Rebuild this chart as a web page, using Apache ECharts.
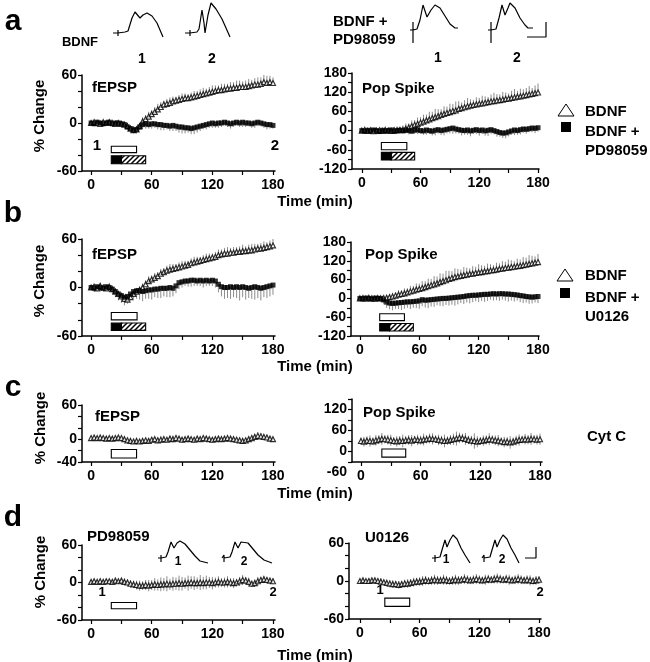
<!DOCTYPE html>
<html><head><meta charset="utf-8">
<script src="https://cdn.jsdelivr.net/npm/echarts@6/dist/echarts.min.js"></script>
<style>html,body{margin:0;padding:0;background:#fff}#c{width:650px;height:662px}</style>
</head><body><div id="c"></div>
<script>
// ---- time base (min) ----
const T = [0,3,6,9,12,15,18,21,24,27,30,33,36,39,42,45,48,51,54,57,60,63,66,69,72,75,78,81,84,87,90,93,96,99,102,105,108,111,114,117,120,123,126,129,132,135,138,141,144,147,150,153,156,159,162,165,168,171,174,177,180];

// ---- a: BDNF vs BDNF + PD98059 ----
const aL_bdnf = [0,1,0,-1,1,0,1,0,-1,0,-1,-2,-4,-7,-9,-8,-4,2,5,8,11,14,17,20,23,24,25,27,28,29,30,31,31,32,33,34,35,36,37,38,39,40,41,41,42,43,43,44,44,45,45,45,46,47,48,48,49,51,50,51,50];
const aL_bdnfErr = [2,3,2,3,2,3,2,3,2,3,3,3,4,4,5,4,4,5,5,6,5,6,7,6,5,6,7,6,5,6,7,6,5,6,7,6,7,8,6,7,8,7,6,8,7,6,8,7,9,8,7,8,9,7,8,9,8,10,9,8,7];
const aL_pd = [0,-1,1,0,-1,0,1,-1,0,0,-1,-2,-5,-7,-9,-8,-5,-2,-1,-2,-1,-1,-2,-2,-3,-3,-4,-3,-4,-5,-5,-6,-6,-7,-6,-5,-4,-3,-2,-1,0,-1,0,0,1,0,-1,0,1,0,1,0,0,-1,0,1,0,-1,-2,-2,-3];
const aL_pdErr = [2,3,2,3,2,2,3,2,3,2,3,4,4,5,4,5,4,5,6,5,6,5,6,7,6,5,6,7,6,7,8,7,6,7,8,7,6,5,6,5,6,5,6,5,4,5,6,5,4,5,6,5,4,5,6,5,4,5,6,5,4];
const aR_bdnf = [0,2,-1,1,-2,0,1,-1,2,0,-1,1,1,2,2,6,10,14,18,21,25,28,32,35,39,42,45,49,52,55,58,61,63,68,70,73,76,78,80,82,84,85,87,89,91,92,94,95,97,99,100,102,104,106,107,109,111,113,115,117,119];
const aR_bdnfErr = [4,5,3,6,4,5,6,4,5,6,8,10,12,9,14,16,12,18,15,20,17,22,18,24,20,26,22,18,24,20,26,22,28,24,18,22,26,20,16,22,18,24,20,16,22,26,20,18,24,20,16,22,26,18,24,20,22,26,18,24,28];
const aR_pd = [0,-2,1,-1,2,0,-3,1,-1,0,2,-2,0,1,-1,2,0,-2,1,3,0,-1,2,0,-2,1,3,0,2,4,6,8,5,3,1,0,2,-1,1,3,0,2,-1,1,3,0,-3,-6,-8,-7,-4,-1,2,0,3,5,4,6,8,7,9];
const aR_pdErr = [4,6,5,7,4,6,5,7,6,5,8,6,7,9,8,10,12,9,11,14,10,12,15,11,13,16,12,14,17,13,15,18,14,12,16,13,15,17,12,14,16,13,15,18,14,12,16,13,15,17,14,12,16,13,15,12,14,11,13,15,12];

// ---- b: BDNF vs BDNF + U0126 ----
const bL_bdnf = [0,1,-1,2,0,-1,1,-2,-5,-8,-11,-14,-15,-12,-8,-5,-3,0,4,8,10,12,14,17,19,21,22,23,24,25,26,27,28,30,31,32,33,34,35,36,37,38,40,41,42,42,43,43,44,44,45,45,46,46,47,48,48,49,50,51,52];
const bL_bdnfErr = [2,3,2,3,2,3,2,3,4,4,5,5,6,5,5,4,4,5,5,6,5,6,5,6,5,6,7,6,5,6,7,6,5,6,7,6,5,6,7,6,5,6,7,6,7,8,6,7,6,7,8,6,7,8,7,6,7,8,6,7,8];
const bL_u = [0,-1,1,0,-1,1,0,-2,-5,-8,-10,-12,-11,-8,-5,-4,-4,-5,-4,-3,-3,-2,-2,-1,-1,-1,0,-1,2,6,7,8,8,9,9,8,9,8,9,8,9,8,4,1,0,0,1,0,1,0,1,0,-1,0,1,0,-1,0,1,2,3];
const bL_uErr = [3,4,3,4,3,4,5,6,7,8,9,10,9,8,9,10,11,12,10,11,12,10,11,12,10,11,12,10,9,8,7,6,7,8,7,6,7,8,7,6,7,8,10,12,14,13,15,12,14,16,13,15,12,14,16,13,15,12,14,13,12];
const bR_bdnf = [0,1,-1,2,0,-1,1,0,1,2,4,6,9,12,14,16,19,22,25,28,30,33,36,39,42,45,48,52,55,58,62,65,68,70,72,74,76,78,79,81,83,84,86,87,89,90,92,94,95,97,98,100,101,103,104,106,108,110,112,114,116];
const bR_bdnfErr = [4,5,3,6,4,5,6,4,6,8,10,12,9,14,12,16,13,18,15,20,17,22,19,24,20,26,22,28,24,30,26,22,28,24,20,26,22,18,24,20,26,22,18,24,20,16,22,18,24,20,26,22,18,24,20,26,22,28,24,20,26];
const bR_u = [0,-1,1,0,-2,1,0,0,-5,-12,-15,-16,-15,-14,-13,-12,-11,-11,-10,-9,-8,-4,-6,-5,-4,-3,-2,-1,0,0,1,2,3,4,5,6,8,9,10,10,11,12,13,13,14,15,14,15,15,14,14,13,12,11,9,8,6,5,4,5,6];
const bR_uErr = [5,6,4,7,5,6,8,10,14,18,20,22,18,20,24,21,19,23,20,22,25,21,23,26,22,24,20,23,25,21,24,22,26,23,20,24,21,25,22,19,23,20,24,21,18,22,20,23,19,21,24,20,22,18,21,23,19,22,20,18,21];

// ---- c: Cyt C ----
const cL = [2,3,2,3,2,1,2,1,2,3,2,0,-2,-3,-4,-3,-4,-3,-2,-3,-1,0,-2,-1,0,-1,1,0,2,1,-1,0,1,0,-1,1,0,2,1,0,-1,0,1,0,1,2,1,0,-1,-2,-3,-2,0,2,4,6,5,4,3,1,0];
const cLErr = [3,4,3,4,3,4,3,4,3,4,4,5,4,5,4,5,4,5,4,5,5,4,5,6,5,4,5,6,5,4,5,4,5,4,5,4,5,4,5,4,4,5,4,5,4,5,4,5,4,5,5,4,5,4,5,6,5,4,5,4,3];
const cR = [0,-2,1,0,-1,2,4,6,5,4,2,0,-1,1,0,2,3,1,4,3,2,4,5,7,6,5,3,2,0,1,3,5,7,9,8,6,3,1,0,-2,0,1,3,5,4,2,1,-1,-3,-2,-4,-2,1,3,4,5,4,6,5,4,5];
const cRErr = [10,14,12,16,11,15,13,17,12,14,16,11,15,13,18,12,14,16,11,15,13,17,12,14,16,11,15,13,18,12,14,16,20,15,13,17,12,14,22,16,11,15,13,17,12,14,16,11,15,13,18,12,14,16,11,15,13,17,12,14,16];

// ---- d: PD98059 / U0126 alone ----
const dL = [1,2,1,2,1,2,2,1,3,2,3,1,0,-2,-3,-4,-5,-5,-4,-5,-4,-3,-4,-3,-3,-2,-3,-2,-2,-1,-2,-1,-1,0,-1,-1,0,-1,0,0,-1,0,1,0,0,1,0,-1,0,2,4,3,1,-2,-1,2,4,5,4,3,2];
const dLErr = [3,4,3,4,3,4,3,4,3,4,4,5,5,6,6,7,8,7,8,9,8,10,9,11,10,12,9,11,10,12,11,9,12,10,11,9,12,10,11,9,10,8,9,7,8,9,7,8,6,7,8,6,7,5,6,7,5,6,5,4,5];
const dR = [0,1,0,0,1,1,0,-1,-2,-3,-4,-5,-5,-6,-5,-4,-4,-3,-2,-1,-1,0,1,0,1,2,1,1,2,1,0,1,2,1,2,3,2,1,2,3,2,1,2,3,2,3,4,3,2,3,2,1,2,3,2,1,2,1,0,1,2];
const dRErr = [3,4,3,4,3,4,4,5,4,5,5,6,5,6,5,6,7,6,7,6,7,8,7,6,7,8,7,6,8,7,6,7,8,7,6,8,7,6,7,8,7,6,8,7,6,7,8,7,6,7,8,6,7,8,7,6,7,8,6,7,6];

// ---- application bars: [start, end, top, bottom] and [start, switch, end, top, bottom] ----
const aL_open = [20,45,-29,-37], aL_drug = [20,30,54,-41,-51];
const aR_open = [20,46,-37,-60], aR_drug = [20,30,54,-68,-92];
const bL_open = [20,45.5,-31,-40], bL_drug = [20,30,54,-44,-53];
const bR_open = [20,45,-49,-71], bR_drug = [20,30,54,-80,-104];
const cL_open = [20,45,-18,-33];
const cR_open = [21,45,-23,-46];
const dL_open = [20,45,-32,-42];
const dR_open = [25,50,-27,-40];

// ---- tick labels ----
const X_LABELS = [0,60,120,180];
const X_TICKS = [0,30,60,90,120,150,180];
const Y60_LABELS = [-60,0,60], Y60_TICKS = [-60,-40,-20,0,20,40,60];
const YPS_LABELS = [-120,-60,0,60,120,180], YPS_TICKS = [-120,-90,-60,-30,0,30,60,90,120,150,180];
const YC_LABELS = [-40,0,60], YC_TICKS = [-40,-20,0,20,40,60];
const YCR_LABELS = [-60,0,60,120], YCR_TICKS = [-60,-30,0,30,60,90,120];

// ---- example sweeps (x: ms-like units, y: mV-like units) ----
const trA1 = [[0,0],[5,0],[5,3],[5,-3],[5,0],[12,1],[15,2],[19,15],[22,21],[27,15],[30,18],[34,20],[39,17],[44,10],[50,-4]];
const trA2 = [[0,0],[5,0],[5,3],[5,-3],[5,0],[12,1],[14,4],[17,23],[19,10],[20,0],[23,18],[26,30],[31,24],[37,14],[45,-4]];
const trAP1 = [[0,0],[3,0],[3,8],[3,-13],[3,0],[7,1],[10,10],[13,25],[17,13],[21,20],[25,25],[30,22],[35,14],[40,6],[45,2],[48,2]];
const trAP2 = [[0,0],[3,0],[3,8],[3,-13],[3,0],[8,1],[11,12],[14,25],[17,15],[20,22],[22,27],[27,22],[32,12],[37,5],[40,2],[45,2]];
const barAP = [[39,-7],[58,-7],[58,8]];
const trD1 = [[0,0],[3,0],[3,3],[3,-4],[3,0],[8,1],[10,6],[13,16],[16,10],[19,15],[22,17],[27,14],[32,8],[37,2],[42,-3],[50,-5]];
const trD2 = [[0,0],[2,0],[2,3],[2,-4],[2,0],[8,1],[10,6],[13,16],[16,10],[19,16],[21,18],[26,15],[31,9],[36,3],[42,-2],[50,-5]];
const trU1 = [[0,0],[3,0],[3,3],[3,-4],[3,0],[8,1],[10,8],[13,18],[15,11],[18,18],[21,23],[25,19],[29,10],[33,3],[38,-5]];
const trU2 = [[0,0],[2,0],[2,3],[2,-4],[2,0],[8,1],[10,8],[13,18],[15,11],[18,18],[21,23],[25,19],[29,10],[33,3],[37,-5]];
const barU = [[43,0],[54,0],[54,11]];

const FONT = '"Liberation Sans", Arial, Helvetica, sans-serif';

const hatch = (function(){
  const c = document.createElement('canvas'); c.width = 5; c.height = 5;
  const g = c.getContext('2d');
  g.fillStyle = '#fff'; g.fillRect(0,0,5,5);
  g.strokeStyle = '#000'; g.lineWidth = 1.5;
  g.beginPath();
  g.moveTo(-1,6); g.lineTo(6,-1);
  g.moveTo(-1,1); g.lineTo(1,-1);
  g.moveTo(4,6); g.lineTo(6,4);
  g.stroke();
  return c;
})();

const panels = [
  {grid:{left:82,top:75,width:193,height:96}, x:[-9,182], y:[-60,60], yl:Y60_LABELS, yt:Y60_TICKS,
   ser:[{v:aL_bdnf,e:aL_bdnfErr,dir:1,s:'tri'},{v:aL_pd,e:aL_pdErr,dir:-1,s:'sq'}], open:aL_open, drug:aL_drug},
  {grid:{left:352,top:73,width:187,height:96}, x:[-10,181], y:[-120,180], yl:YPS_LABELS, yt:YPS_TICKS,
   ser:[{v:aR_bdnf,e:aR_bdnfErr,dir:1,s:'tri'},{v:aR_pd,e:aR_pdErr,dir:-1,s:'sq'}], open:aR_open, drug:aR_drug},
  {grid:{left:82,top:239,width:193,height:97}, x:[-9,182], y:[-60,60], yl:Y60_LABELS, yt:Y60_TICKS,
   ser:[{v:bL_bdnf,e:bL_bdnfErr,dir:1,s:'tri'},{v:bL_u,e:bL_uErr,dir:-1,s:'sq'}], open:bL_open, drug:bL_drug},
  {grid:{left:351,top:242,width:188,height:94}, x:[-9,181], y:[-120,180], yl:YPS_LABELS, yt:YPS_TICKS,
   ser:[{v:bR_bdnf,e:bR_bdnfErr,dir:1,s:'tri'},{v:bR_u,e:bR_uErr,dir:-1,s:'sq'}], open:bR_open, drug:bR_drug},
  {grid:{left:82,top:405,width:193,height:57}, x:[-9,182], y:[-40,60], yl:YC_LABELS, yt:YC_TICKS,
   ser:[{v:cL,e:cLErr,dir:0,s:'tri'}], open:cL_open},
  {grid:{left:352,top:399,width:190,height:63}, x:[-9,182], y:[-60,120], yl:YCR_LABELS, yt:YCR_TICKS, shift:true,
   ser:[{v:cR,e:cRErr,dir:0,s:'tri'}], open:cR_open},
  {grid:{left:82,top:545,width:193,height:75}, x:[-9,182], y:[-60,60], yl:Y60_LABELS, yt:Y60_TICKS,
   ser:[{v:dL,e:dLErr,dir:0,s:'tri'}], open:dL_open},
  {grid:{left:349,top:543,width:192,height:76}, x:[-11,182], y:[-60,60], yl:Y60_LABELS, yt:Y60_TICKS,
   ser:[{v:dR,e:dRErr,dir:0,s:'tri'}], open:dR_open}
];

const traces = [
  {d:trA1, left:113, base:33, ymax:33},
  {d:trA2, left:185, base:33, ymax:33},
  {d:trAP1, left:410, base:30, ymax:30},
  {d:trAP2, left:488, base:30, ymax:30, bar:barAP},
  {d:trD1, left:158, base:558, ymax:25},
  {d:trD2, left:222, base:558, ymax:25},
  {d:trU1, left:432, base:558, ymax:25},
  {d:trU2, left:482, base:558, ymax:25, bar:barU}
];

const grids = [], xAxes = [], yAxes = [], series = [];
const lab = {fontFamily:FONT, fontWeight:'bold', fontSize:14, color:'#000'};
const axLine = {show:true, onZero:false, lineStyle:{color:'#000', width:1.5}};

panels.forEach((p, k) => {
  grids.push(p.grid);
  xAxes.push({type:'value', gridIndex:k, min:p.x[0], max:p.x[1], axisLine:axLine,
    axisTick:{show:true, length:4, customValues:X_TICKS, lineStyle:{color:'#000', width:1.2}},
    axisLabel:Object.assign({margin:7, customValues:X_LABELS}, lab), splitLine:{show:false}});
  yAxes.push({type:'value', gridIndex:k, min:p.y[0], max:p.y[1], axisLine:axLine,
    axisTick:{show:true, length:4, customValues:p.yt, lineStyle:{color:'#000', width:1.2}},
    axisLabel:Object.assign({margin:5, customValues:p.yl}, lab, p.shift ? {verticalAlign:'top', lineHeight:20} : {}),
    splitLine:{show:false}});
  // error bars
  p.ser.forEach(s => {
    const dir = s.dir;
    series.push({type:'custom', xAxisIndex:k, yAxisIndex:k, silent:true, z:1, clip:true,
      data: T.map((t,i) => [t, s.v[i], s.e[i]]),
      renderItem:(params, api) => {
        const t = api.value(0), v = api.value(1), e = api.value(2);
        const a = api.coord([t, dir >= 0 ? v + e : v]);
        const b = api.coord([t, dir <= 0 ? v - e : v]);
        return {type:'line', shape:{x1:a[0], y1:a[1], x2:b[0], y2:b[1]}, style:{stroke:'#8c8c8c', lineWidth:1}};
      }});
  });
  // points
  p.ser.forEach(s => {
    const tri = s.s === 'tri';
    series.push({type:'scatter', xAxisIndex:k, yAxisIndex:k, silent:true, z:2,
      symbol: tri ? 'triangle' : 'rect', symbolSize: tri ? 5 : 5,
      itemStyle: tri ? {color:'#fff', borderColor:'#000', borderWidth:1.2} : {color:'#000'},
      data: T.map((t,i) => [t, s.v[i]])});
  });
  // application bars
  if (p.open) series.push({type:'custom', xAxisIndex:k, yAxisIndex:k, silent:true, z:3,
    data:[p.open],
    renderItem:(params, api) => {
      const a = api.coord([api.value(0), api.value(2)]), b = api.coord([api.value(1), api.value(3)]);
      return {type:'rect', shape:{x:a[0], y:a[1], width:b[0]-a[0], height:b[1]-a[1]},
        style:{fill:'#fff', stroke:'#000', lineWidth:1.1}};
    }});
  if (p.drug) series.push({type:'custom', xAxisIndex:k, yAxisIndex:k, silent:true, z:3,
    data:[p.drug],
    renderItem:(params, api) => {
      const a = api.coord([api.value(0), api.value(3)]), m = api.coord([api.value(1), api.value(4)]),
            b = api.coord([api.value(2), api.value(4)]);
      return {type:'group', children:[
        {type:'rect', shape:{x:m[0], y:a[1], width:b[0]-m[0], height:b[1]-a[1]},
          style:{fill:{image:hatch, repeat:'repeat'}, stroke:'#000', lineWidth:1.1}},
        {type:'rect', shape:{x:a[0], y:a[1], width:m[0]-a[0], height:m[1]-a[1]},
          style:{fill:'#000', stroke:'#000', lineWidth:1.1}}
      ]};
    }});
});

traces.forEach((tr, j) => {
  const k = panels.length + j;
  grids.push({left:tr.left, top:tr.base - tr.ymax, width:60, height:tr.ymax + 15});
  xAxes.push({type:'value', gridIndex:k, min:0, max:60, show:false});
  yAxes.push({type:'value', gridIndex:k, min:-15, max:tr.ymax, show:false});
  series.push({type:'line', xAxisIndex:k, yAxisIndex:k, silent:true, symbol:'none', showSymbol:false,
    lineStyle:{color:'#000', width:1.2}, data:tr.d});
  if (tr.bar) series.push({type:'line', xAxisIndex:k, yAxisIndex:k, silent:true, symbol:'none', showSymbol:false,
    lineStyle:{color:'#000', width:1.2}, data:tr.bar});
});

function txt(text, x, y, size, align, rot) {
  return {type:'text', x:x, y:y, rotation:rot || 0, silent:true,
    style:{text:text, fontFamily:FONT, fontWeight:'bold', fontSize:size, fill:'#000',
      textAlign:align || 'center', textVerticalAlign:'middle'}};
}
const R = Math.PI / 2;
const graphic = [
  txt('a', 13, 22, 30), txt('b', 13, 214, 30), txt('c', 13, 388, 30), txt('d', 13, 518, 30),
  txt('BDNF', 80, 42, 13), txt('1', 142, 59, 14), txt('2', 212, 59, 14),
  txt('BDNF +', 333, 22, 15, 'left'), txt('PD98059', 333, 40, 15, 'left'),
  txt('1', 438, 58, 14), txt('2', 517, 58, 14),
  txt('fEPSP', 92, 88, 15, 'left'), txt('Pop Spike', 362, 89, 15, 'left'),
  txt('1', 97, 146, 15), txt('2', 275, 146, 15),
  txt('% Change', 40, 116, 15, 'center', R), txt('Time (min)', 315, 202, 15),
  txt('BDNF', 585, 112, 15, 'left'), txt('BDNF +', 585, 132, 15, 'left'), txt('PD98059', 585, 151, 15, 'left'),
  txt('fEPSP', 92, 255, 15, 'left'), txt('Pop Spike', 365, 255, 15, 'left'),
  txt('% Change', 40, 281, 15, 'center', R), txt('Time (min)', 315, 367, 15),
  txt('BDNF', 585, 276, 15, 'left'), txt('BDNF +', 585, 298, 15, 'left'), txt('U0126', 585, 317, 15, 'left'),
  txt('fEPSP', 95, 417, 15, 'left'), txt('Pop Spike', 363, 413, 15, 'left'), txt('Cyt C', 587, 437, 15, 'left'),
  txt('% Change', 41, 428, 15, 'center', R), txt('Time (min)', 315, 494, 15),
  txt('PD98059', 87, 537, 15, 'left'), txt('U0126', 365, 538, 15, 'left'),
  txt('% Change', 41, 572, 15, 'center', R),
  txt('1', 102, 592, 13), txt('2', 273, 592, 13), txt('1', 380, 590, 13), txt('2', 540, 592, 13),
  txt('1', 178, 562, 12), txt('2', 244, 562, 12), txt('1', 446, 560, 12), txt('2', 502, 560, 12),
  txt('Time (min)', 315, 656, 15),
  {type:'polygon', silent:true, shape:{points:[[558,116],[574,116],[566,104]]}, style:{fill:'#fff', stroke:'#000', lineWidth:1}},
  {type:'rect', silent:true, shape:{x:561, y:122, width:10, height:10}, style:{fill:'#000'}},
  {type:'polygon', silent:true, shape:{points:[[557,281],[573,281],[565,269]]}, style:{fill:'#fff', stroke:'#000', lineWidth:1}},
  {type:'rect', silent:true, shape:{x:560, y:288, width:10, height:10}, style:{fill:'#000'}}
];

const chart = echarts.init(document.getElementById('c'), null, {renderer:'canvas'});
chart.setOption({animation:false, backgroundColor:'#fff', grid:grids, xAxis:xAxes, yAxis:yAxes, series:series, graphic:graphic});
</script></body></html>
